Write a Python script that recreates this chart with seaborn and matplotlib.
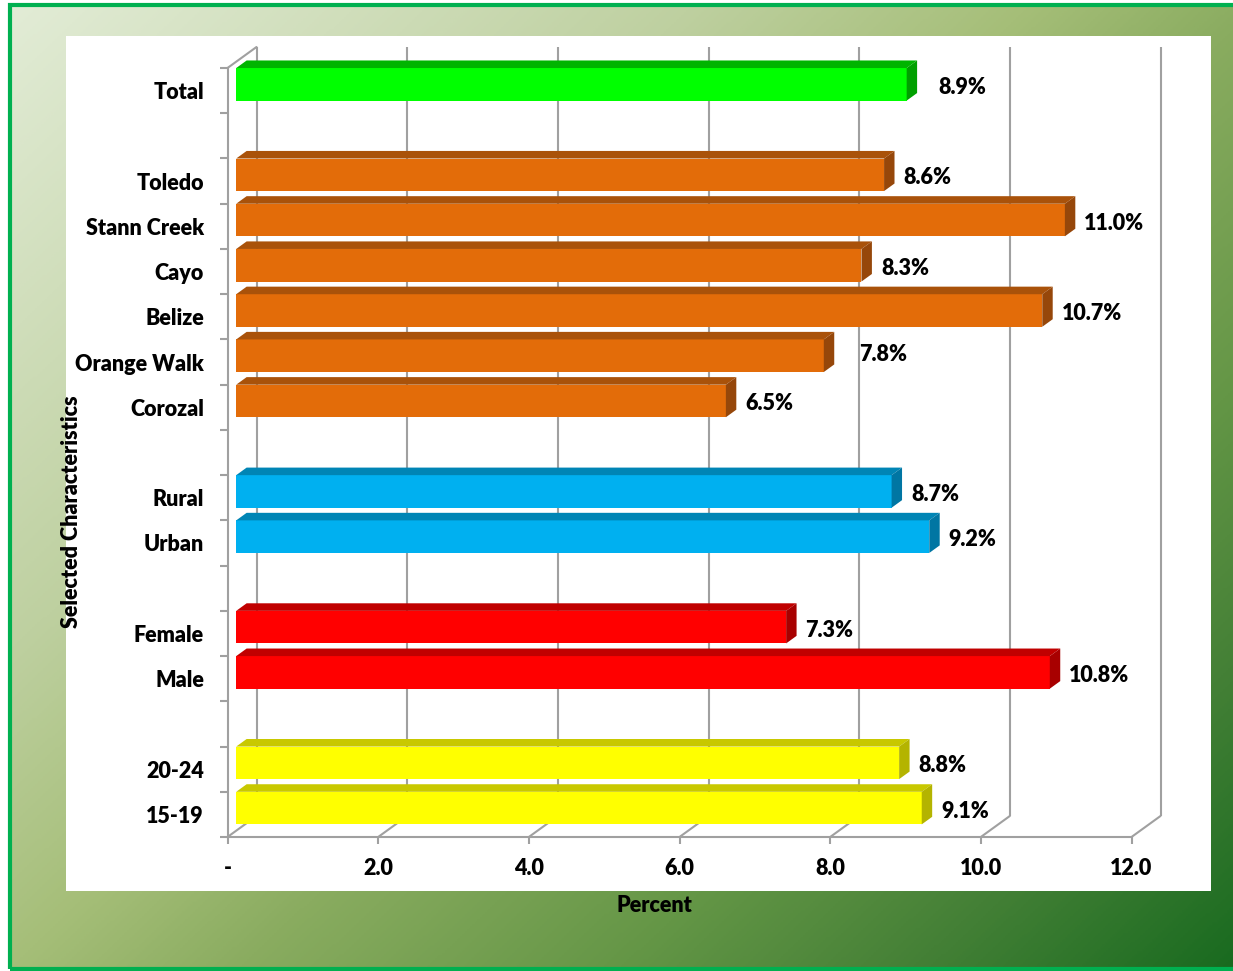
import numpy as np
import pandas as pd
import matplotlib
matplotlib.use("Agg")
import matplotlib.pyplot as plt
from matplotlib.patches import Polygon, Rectangle
from matplotlib.colors import LinearSegmentedColormap
import seaborn as sns

# ---- data -------------------------------------------------------------
total_labels = ["Total"]
total_values = [8.9]
district_labels = ["Toledo", "Stann Creek", "Cayo", "Belize", "Orange Walk", "Corozal"]
district_values = [8.6, 11.0, 8.3, 10.7, 7.8, 6.5]
area_labels = ["Rural", "Urban"]
area_values = [8.7, 9.2]
sex_labels = ["Female", "Male"]
sex_values = [7.3, 10.8]
age_labels = ["20-24", "15-19"]
age_values = [8.8, 9.1]

x_ticks = [0, 2, 4, 6, 8, 10, 12]
x_tick_labels = ["-", "2.0", "4.0", "6.0", "8.0", "10.0", "12.0"]

group_blocks = [
    ("Total", total_labels, total_values),
    ("District", district_labels, district_values),
    ("Area", area_labels, area_values),
    ("Sex", sex_labels, sex_values),
    ("Age", age_labels, age_values),
]

# face colours per group: front, top, side
front_col = {"Total": "#00FF00", "District": "#E36C09", "Area": "#00B0F0",
             "Sex": "#FF0000", "Age": "#FFFF00"}
top_col = {"Total": "#00B400", "District": "#A9520A", "Area": "#0085B5",
           "Sex": "#C00000", "Age": "#C8C800"}
side_col = {"Total": "#00A000", "District": "#96470A", "Area": "#0076A3",
            "Sex": "#A80000", "Age": "#B4B400"}

# build long table and category order with blank spacer rows between groups
rows = []
order = []
for gi, (g, labs, vals) in enumerate(group_blocks):
    if gi > 0:
        order.append(" " * gi)
    for l, v in zip(labs, vals):
        rows.append({"label": l, "value": v, "group": g})
        order.append(l)
df = pd.DataFrame(rows)
n_slots = len(order)

# ---- figure -----------------------------------------------------------
W, H = 1233, 971
DPI = 100
sns.set_theme(style="white")
plt.rcParams["font.family"] = ["Lato", "DejaVu Sans"]
FW = "heavy"
plt.rcParams["font.weight"] = FW
FS = 15.5

fig = plt.figure(figsize=(W / DPI, H / DPI), dpi=DPI, facecolor="white")

# gradient backdrop inside the frame
bg = fig.add_axes([0, 0, 1, 1], zorder=-10)
bg.set_axis_off()
yy, xx = np.mgrid[0:1:400j, 0:1:500j]
t = 0.55 * xx + 0.45 * yy
stops = [(0.0, (226, 236, 214)), (0.3, (190, 208, 160)), (0.45, (165, 190, 120)),
         (0.55, (138, 172, 96)), (0.72, (100, 150, 70)), (0.85, (68, 128, 54)),
         (1.0, (22, 105, 30))]
cmap = LinearSegmentedColormap.from_list(
    "bg", [(p, tuple(c / 255 for c in rgb)) for p, rgb in stops])
bg.imshow(t, cmap=cmap, vmin=0, vmax=1, extent=[10 / W, 1.02, 2 / H, 1 - 5.5 / H],
          aspect="auto", origin="upper", transform=fig.transFigure)
bg.set_xlim(0, 1)
bg.set_ylim(0, 1)
# green frame
fig.patches.append(Rectangle((10 / W, 2.5 / H), 1.1, 1 - 8 / H, transform=fig.transFigure,
                             fill=False, edgecolor="#00B050", lw=3, zorder=-5))
# white chart area
fig.patches.append(Rectangle((66 / W, 1 - 891 / H), (1211 - 66) / W, (891 - 36) / H,
                             transform=fig.transFigure, facecolor="white",
                             edgecolor="none", zorder=-4))

# front plane of the 3-D box
left_px, right_px, top_px, bot_px = 227.5, 1131.5, 68, 837
ax = fig.add_axes([left_px / W, 1 - bot_px / H, (right_px - left_px) / W,
                   (bot_px - top_px) / H])
ax.patch.set_alpha(0)

sns.barplot(data=df, y="label", x="value", hue="group", order=order,
            palette=front_col, dodge=False, width=0.72, saturation=1,
            legend=False, ax=ax, orient="h", linewidth=0)
ax.set_xlim(0, 12)
ax.set_ylim(n_slots - 0.5, -0.5)

# depth vector of the box, in data units
px_x = (right_px - left_px) / 12.0
px_y = (bot_px - top_px) / n_slots
DX = 29 / px_x
DY = -21 / px_y
F0, BD = 0.3, 0.36  # bar front-face depth and bar thickness (fraction of box depth)

grid_c = "#A0A0A0"
glw = 1.5
for tx in x_ticks:
    ax.plot([tx + DX, tx + DX], [n_slots - 0.5 + DY, -0.5 + DY], color=grid_c,
            lw=glw, clip_on=False, zorder=0.5, solid_capstyle="butt")
    ax.plot([tx, tx + DX], [n_slots - 0.5, n_slots - 0.5 + DY], color=grid_c,
            lw=glw, clip_on=False, zorder=0.5)
ax.plot([0, DX], [-0.5, -0.5 + DY], color=grid_c, lw=glw, clip_on=False, zorder=0.5)

# turn flat bars into 3-D blocks
val_lookup = dict(zip(df["label"], df["value"]))
grp_lookup = dict(zip(df["label"], df["group"]))
bars = [p for p in ax.patches if np.isfinite(p.get_width()) and p.get_width() > 0]
fx, fy = F0 * DX, F0 * DY
bx, by = BD * DX, BD * DY
for p in bars:
    x0, y0, w, h = p.get_x(), p.get_y(), p.get_width(), p.get_height()
    yc = y0 + h / 2
    lab = order[int(round(yc))]
    g = grp_lookup[lab]
    p.set_x(x0 + fx)
    p.set_y(y0 + fy)
    p.set_zorder(3)
    xl, xr = x0 + fx, x0 + w + fx
    yt, yb = y0 + fy, y0 + h + fy
    ax.add_patch(Polygon([(xl, yt), (xr, yt), (xr + bx, yt + by), (xl + bx, yt + by)],
                         closed=True, facecolor=top_col[g], edgecolor="none",
                         zorder=3, clip_on=False))
    ax.add_patch(Polygon([(xr, yt), (xr, yb), (xr + bx, yb + by), (xr + bx, yt + by)],
                         closed=True, facecolor=side_col[g], edgecolor="none",
                         zorder=3, clip_on=False))

# value labels beside each bar
nudge = {"Total": (12, 0), "Orange Walk": (16, 4)}
for lab, v in val_lookup.items():
    yi = order.index(lab)
    dxp, dyp = nudge.get(lab, (0, 0))
    ax.annotate(f"{v:.1f}%", xy=(v + fx + bx, yi + fy),
                xytext=((9 + dxp) * 0.72, (dyp - 3) * 0.72),
                textcoords="offset points", ha="left", va="center",
                fontsize=FS, fontweight=FW, color="black", zorder=5,
                annotation_clip=False)

# axes styling
for s in ["top", "right"]:
    ax.spines[s].set_visible(False)
for s in ["left", "bottom"]:
    ax.spines[s].set_color(grid_c)
    ax.spines[s].set_linewidth(glw)
    ax.spines[s].set_zorder(0.6)

ax.set_xticks(x_ticks)
ax.set_xticklabels(x_tick_labels, fontsize=FS, fontweight=FW, color="black")
ax.tick_params(axis="x", which="major", length=5, width=glw, color=grid_c,
               direction="out", pad=10, bottom=True)
ax.set_yticks(range(n_slots))
ax.set_yticklabels(order, fontsize=FS, fontweight=FW, color="black")
ax.set_yticks(np.arange(n_slots + 1) - 0.5, minor=True)
ax.tick_params(axis="y", which="major", length=0, pad=17)
ax.tick_params(axis="y", which="minor", length=6, width=glw, color=grid_c,
               direction="out", left=True)
ax.set_xlabel("")
ax.set_ylabel("")
ax.grid(False)

fig.text(654 / W, 1 - 905 / H, "Percent", ha="center", va="center",
         fontsize=FS, fontweight=FW, color="black")
fig.text(72 / W, 1 - 512 / H, "Selected Characteristics", ha="center", va="center",
         rotation=90, fontsize=FS, fontweight=FW, color="black")

fig.savefig("out.png", dpi=DPI)
